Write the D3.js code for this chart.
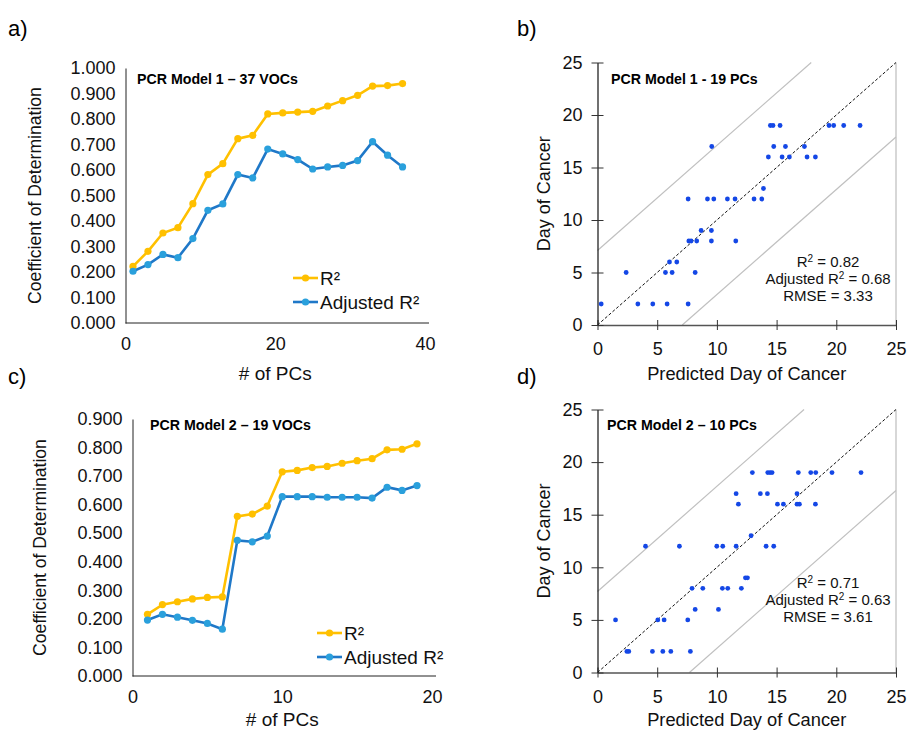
<!DOCTYPE html>
<html>
<head>
<meta charset="utf-8">
<script src="https://cdn.jsdelivr.net/npm/d3@7"></script>
<style>
  body { margin: 0; background: #fff; }
  svg text { font-family: "Liberation Sans", Arial, sans-serif; }
</style>
</head>
<body>
<svg id="chart" width="909" height="731"></svg>
<script>
// panel a: PCR model 1, 37 VOCs
var pcsA = [1, 3, 5, 7, 9, 11, 13, 15, 17, 19, 21, 23, 25, 27, 29, 31, 33, 35, 37];
var r2A = [0.222, 0.281, 0.353, 0.374, 0.468, 0.582, 0.625, 0.723, 0.736, 0.820, 0.824, 0.827, 0.830, 0.851, 0.872, 0.893, 0.929, 0.931, 0.939];
var adjA = [0.203, 0.229, 0.269, 0.256, 0.331, 0.442, 0.467, 0.582, 0.569, 0.682, 0.663, 0.641, 0.604, 0.612, 0.618, 0.637, 0.711, 0.658, 0.612];

// panel c: PCR model 2, 19 VOCs
var pcsC = [1, 2, 3, 4, 5, 6, 7, 8, 9, 10, 11, 12, 13, 14, 15, 16, 17, 18, 19];
var r2C = [0.216, 0.250, 0.260, 0.270, 0.275, 0.277, 0.559, 0.567, 0.595, 0.715, 0.720, 0.730, 0.734, 0.745, 0.754, 0.761, 0.792, 0.794, 0.813];
var adjC = [0.196, 0.216, 0.206, 0.195, 0.184, 0.164, 0.475, 0.470, 0.490, 0.628, 0.628, 0.628, 0.626, 0.626, 0.626, 0.623, 0.661, 0.650, 0.667];

// panel b: predicted vs actual, model 1
var predB = [14.48, 14.70, 15.29, 19.39, 19.78, 20.62, 21.99,
  9.57, 14.76, 15.74, 17.33,
  14.31, 15.46, 16.07, 17.55, 18.25,
  13.90,
  7.59, 9.21, 9.74, 10.88, 11.52, 13.11, 13.76,
  8.68, 9.54,
  7.65, 7.84, 8.31, 9.54, 11.58,
  6.03, 6.64,
  2.40, 5.69, 6.25, 8.18,
  0.31, 3.38, 4.63, 5.83, 7.59];
var dayB = [19, 19, 19, 19, 19, 19, 19,
  17, 17, 17, 17,
  16, 16, 16, 16, 16,
  13,
  12, 12, 12, 12, 12, 12, 12,
  9, 9,
  8, 8, 8, 8, 8,
  6, 6,
  5, 5, 5, 5,
  2, 2, 2, 2, 2];

// panel d: predicted vs actual, model 2
var predD = [12.97, 14.26, 14.45, 14.62, 16.82, 17.86, 18.28, 19.64, 22.07,
  11.61, 13.64, 14.23, 16.71,
  11.80, 15.07, 15.57, 16.71, 16.91, 18.25,
  12.86,
  4.02, 6.86, 9.99, 10.49, 11.61, 14.12, 14.76,
  12.39, 12.56,
  7.92, 8.82, 10.46, 10.91, 12.05,
  8.18, 10.13,
  1.51, 5.05, 5.58, 7.56,
  2.46, 2.62, 4.60, 5.47, 6.14, 7.78];
var dayD = [19, 19, 19, 19, 19, 19, 19, 19, 19,
  17, 17, 17, 17,
  16, 16, 16, 16, 16, 16,
  13,
  12, 12, 12, 12, 12, 12, 12,
  9, 9,
  8, 8, 8, 8, 8,
  6, 6,
  5, 5, 5, 5,
  2, 2, 2, 2, 2, 2];

var yTicksA = [0, 0.1, 0.2, 0.3, 0.4, 0.5, 0.6, 0.7, 0.8, 0.9, 1.0];
var yTicksC = [0, 0.1, 0.2, 0.3, 0.4, 0.5, 0.6, 0.7, 0.8, 0.9];
var xTicksA = [0, 20, 40];
var xTicksC = [0, 10, 20];
var dayTicks = [0, 5, 10, 15, 20, 25];

var ORANGE = '#ffc000';
var BLUE_LINE = '#1f78c8';
var BLUE_DOT = '#2aa0dc';
var DOT = '#1447e6';
var TICK_FS = 18;

var svg = d3.select('#chart');

function panelLetter(text, x, y) {
  svg.append('text')
    .attr('x', x).attr('y', y)
    .attr('font-size', 22)
    .text(text);
}

function linePanel(o) {
  var x = d3.scaleLinear().domain(o.xDomain).range(o.xRange);
  var y = d3.scaleLinear().domain(o.yDomain).range(o.yRange);
  var g = svg.append('g');

  var xAxis = d3.axisBottom(x).tickValues(o.xTicks).tickSize(0).tickPadding(14);
  var yAxis = d3.axisLeft(y).tickValues(o.yTicks).tickSize(0).tickPadding(10)
    .tickFormat(d3.format('.3f'));

  g.append('g').attr('transform', 'translate(0,' + o.yRange[0] + ')').call(xAxis)
    .call(function(s) {
      s.select('.domain').attr('stroke', '#222').attr('d', 'M' + o.xRange[0] + ',0H' + (o.xRange[1] + 4));
      s.selectAll('text').attr('font-size', TICK_FS).attr('fill', '#111');
    });
  g.append('g').attr('transform', 'translate(' + o.xRange[0] + ',0)').call(yAxis)
    .call(function(s) {
      s.select('.domain').attr('stroke', '#222');
      s.selectAll('text').attr('font-size', TICK_FS).attr('fill', '#111');
    });

  var series = [
    { vals: o.r2, line: ORANGE, dot: ORANGE },
    { vals: o.adj, line: BLUE_LINE, dot: BLUE_DOT }
  ];
  var line = d3.line()
    .x(function(d) { return x(d[0]); })
    .y(function(d) { return y(d[1]); });

  series.forEach(function(s) {
    var pts = o.pcs.map(function(p, i) { return [p, s.vals[i]]; });
    g.append('path').datum(pts)
      .attr('fill', 'none').attr('stroke', s.line).attr('stroke-width', 2.6)
      .attr('d', line);
    g.selectAll(null).data(pts).enter().append('circle')
      .attr('cx', function(d) { return x(d[0]); })
      .attr('cy', function(d) { return y(d[1]); })
      .attr('r', 3.6)
      .attr('fill', s.dot);
  });

  // legend
  var labels = ['R\u00b2', 'Adjusted R\u00b2'];
  series.forEach(function(s, i) {
    var ly = o.legend[1] + i * 24;
    g.append('line')
      .attr('x1', o.legend[0]).attr('x2', o.legend[0] + 25)
      .attr('y1', ly).attr('y2', ly)
      .attr('stroke', s.line).attr('stroke-width', 2.6);
    g.append('circle').attr('cx', o.legend[0] + 12.5).attr('cy', ly).attr('r', 3.6).attr('fill', s.dot);
    g.append('text').attr('x', o.legend[0] + 27).attr('y', ly + 6.5)
      .attr('font-size', 19).attr('fill', '#111')
      .text(labels[i]);
  });

  g.append('text')
    .attr('x', o.title[0]).attr('y', o.title[1])
    .attr('font-family', 'Lato, "Open Sans", sans-serif')
    .attr('font-weight', 'bold').attr('font-size', 14.2)
    .text(o.titleText);

  g.append('text')
    .attr('x', (o.xRange[0] + o.xRange[1]) / 2).attr('y', o.xLabelY)
    .attr('text-anchor', 'middle').attr('font-size', 19).attr('fill', '#111')
    .text('# of PCs');
  g.append('text')
    .attr('transform', 'translate(' + o.yLabelX + ',' + ((o.yRange[0] + o.yRange[1]) / 2) + ') rotate(-90)')
    .attr('text-anchor', 'middle').attr('font-size', 17.6).attr('fill', '#111')
    .text('Coefficient of Determination');
}

function scatterPanel(o) {
  var x = d3.scaleLinear().domain([0, 25]).range(o.xRange);
  var y = d3.scaleLinear().domain([0, 25]).range(o.yRange);
  var g = svg.append('g');

  // right border
  g.append('line')
    .attr('x1', x(25)).attr('x2', x(25)).attr('y1', y(25)).attr('y2', y(0))
    .attr('stroke', '#bdbdbd').attr('stroke-width', 1.2);

  // +/- band lines
  [o.band, -o.band].forEach(function(b) {
    var x0 = Math.max(0, -b), x1 = Math.min(25, 25 - b);
    g.append('line')
      .attr('x1', x(x0)).attr('y1', y(x0 + b))
      .attr('x2', x(x1)).attr('y2', y(x1 + b))
      .attr('stroke', '#c0c0c0').attr('stroke-width', 1.2);
  });

  // 1:1 line
  g.append('line')
    .attr('x1', x(0)).attr('y1', y(0)).attr('x2', x(25)).attr('y2', y(25))
    .attr('stroke', '#111').attr('stroke-width', 1).attr('stroke-dasharray', '3,2');

  var xAxis = d3.axisBottom(x).tickValues(dayTicks).tickSizeInner(6).tickSizeOuter(0).tickPadding(8);
  var yAxis = d3.axisLeft(y).tickValues(dayTicks).tickSizeInner(6).tickSizeOuter(0).tickPadding(9);

  g.append('g').attr('transform', 'translate(0,' + o.yRange[0] + ')').call(xAxis)
    .call(function(s) {
      s.select('.domain').attr('stroke', '#555').attr('stroke-width', 1.3);
      s.selectAll('.tick line').attr('stroke', '#333').attr('y1', -5).attr('y2', 5);
      s.selectAll('text').attr('font-size', TICK_FS).attr('fill', '#111').attr('dy', '0.9em');
    });
  g.append('g').attr('transform', 'translate(' + o.xRange[0] + ',0)').call(yAxis)
    .call(function(s) {
      s.select('.domain').attr('stroke', '#111').attr('stroke-width', 1.2);
      s.selectAll('.tick line').attr('stroke', '#333').attr('x1', -6).attr('x2', 6);
      s.selectAll('text').attr('font-size', TICK_FS).attr('fill', '#111');
    });

  g.selectAll(null).data(o.pred).enter().append('circle')
    .attr('cx', function(d) { return x(d); })
    .attr('cy', function(d, i) { return y(o.day[i]); })
    .attr('r', 2.4)
    .attr('fill', DOT);

  g.append('text')
    .attr('x', o.title[0]).attr('y', o.title[1])
    .attr('font-family', 'Lato, "Open Sans", sans-serif')
    .attr('font-weight', 'bold').attr('font-size', 14.2)
    .text(o.titleText);

  // stats
  var st = g.append('g').attr('font-size', 15).attr('fill', '#111').attr('text-anchor', 'middle');
  var l1 = st.append('text').attr('x', o.stats[0]).attr('y', o.stats[1]);
  l1.append('tspan').text('R');
  l1.append('tspan').attr('font-size', 10).attr('dy', -5.5).text('2');
  l1.append('tspan').attr('dy', 5.5).text(' = ' + o.r2);
  var l2 = st.append('text').attr('x', o.stats[0]).attr('y', o.stats[1] + 17);
  l2.append('tspan').text('Adjusted R');
  l2.append('tspan').attr('font-size', 10).attr('dy', -5.5).text('2');
  l2.append('tspan').attr('dy', 5.5).text(' = ' + o.adj);
  st.append('text').attr('x', o.stats[0]).attr('y', o.stats[1] + 34).text('RMSE = ' + o.rmse);

  g.append('text')
    .attr('x', (o.xRange[0] + o.xRange[1]) / 2).attr('y', o.xLabelY)
    .attr('text-anchor', 'middle').attr('font-size', 18.3).attr('fill', '#111')
    .text('Predicted Day of Cancer');
  g.append('text')
    .attr('transform', 'translate(' + o.yLabelX + ',' + ((o.yRange[0] + o.yRange[1]) / 2) + ') rotate(-90)')
    .attr('text-anchor', 'middle').attr('font-size', 18).attr('fill', '#111')
    .text('Day of Cancer');
}

panelLetter('a)', 8, 36);
panelLetter('b)', 517, 36);
panelLetter('c)', 8, 384);
panelLetter('d)', 517, 384);

linePanel({
  pcs: pcsA, r2: r2A, adj: adjA,
  xDomain: [0, 40], xRange: [125.5, 425],
  yDomain: [0, 1], yRange: [323, 68],
  xTicks: xTicksA, yTicks: yTicksA,
  legend: [293, 278],
  title: [137, 84], titleText: 'PCR Model 1 \u2013 37 VOCs',
  xLabelY: 380, yLabelX: 41
});

linePanel({
  pcs: pcsC, r2: r2C, adj: adjC,
  xDomain: [0, 20], xRange: [132.5, 432],
  yDomain: [0, 0.9], yRange: [676, 419],
  xTicks: xTicksC, yTicks: yTicksC,
  legend: [317, 633],
  title: [150, 430], titleText: 'PCR Model 2 \u2013 19 VOCs',
  xLabelY: 726, yLabelX: 46
});

scatterPanel({
  pred: predB, day: dayB,
  xRange: [597.5, 896], yRange: [325, 62.5],
  band: 7.1,
  title: [611, 84], titleText: 'PCR Model 1 - 19 PCs',
  stats: [828, 267], r2: '0.82', adj: '0.68', rmse: '3.33',
  xLabelY: 380, yLabelX: 550
});

scatterPanel({
  pred: predD, day: dayD,
  xRange: [597.5, 896], yRange: [672.5, 409.5],
  band: 7.7,
  title: [607, 430], titleText: 'PCR Model 2 \u2013 10 PCs',
  stats: [828, 588], r2: '0.71', adj: '0.63', rmse: '3.61',
  xLabelY: 726, yLabelX: 550
});
</script>
</body>
</html>
